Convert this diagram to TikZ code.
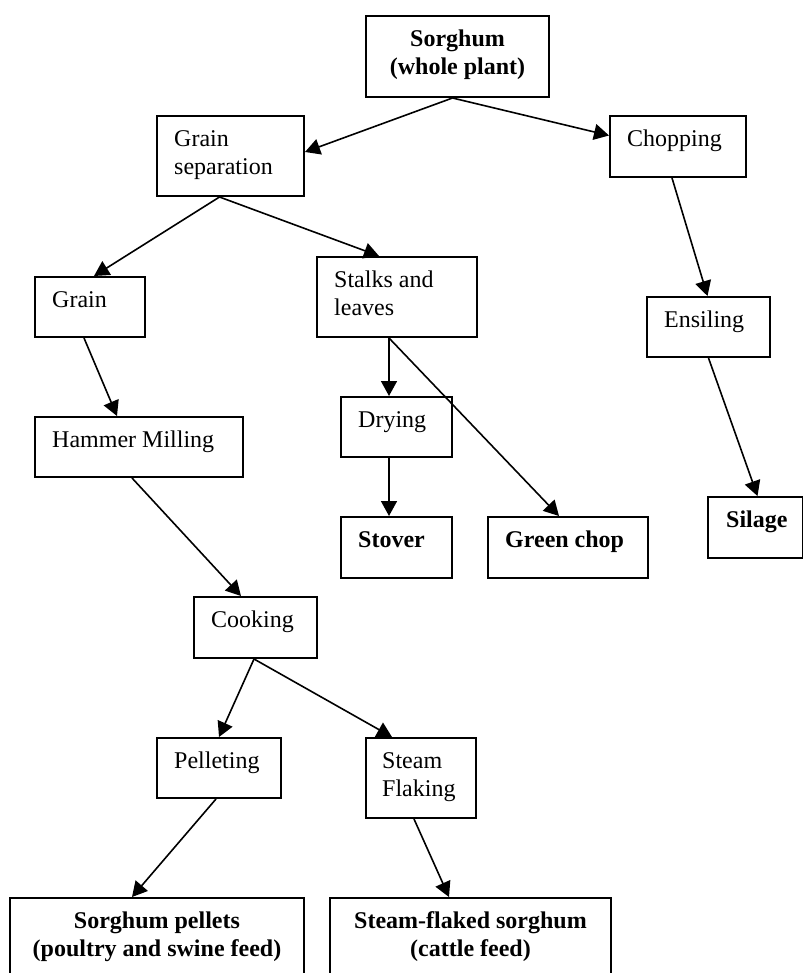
\documentclass[tikz,border=0pt]{standalone}
\usepackage{fontspec}
\setmainfont{Liberation Serif}
\usetikzlibrary{arrows.meta,calc,fit}

\tikzset{
  box/.style={draw, line width=2pt, inner sep=0pt, rectangle},
  lbl/.style={inner sep=0pt, font=\fontsize{24}{28}\selectfont},
  lblleft/.style={lbl, anchor=north west, align=left},
  lblbold/.style={lblleft, font=\fontsize{24}{28}\selectfont\bfseries},
  lblmid/.style={lbl, anchor=north, align=center, font=\fontsize{24}{28}\selectfont\bfseries},
  flow/.style={line width=1.6pt, -{Triangle[length=15pt,width=16pt]}}
}
% first-line strut: the baseline sits 20pt below the top of the text node
\newcommand{\firstline}{\rule{0pt}{20pt}}

\begin{document}
\begin{tikzpicture}[x=1pt,y=-1pt]
  \useasboundingbox (0,0) rectangle (802,973);

  % boxes
  \node[box, fit={(366,16) (549,97)}]   (sorghum) {};
  \node[box, fit={(157,116) (304,196)}] (grainsep) {};
  \node[box, fit={(610,116) (746,177)}] (chopping) {};
  \node[box, fit={(35,277) (145,337)}]  (grain) {};
  \node[box, fit={(317,257) (477,337)}] (stalks) {};
  \node[box, fit={(647,297) (770,357)}] (ensiling) {};
  \node[box, fit={(35,417) (243,477)}]  (hammer) {};
  \node[box, fit={(341,397) (452,457)}] (drying) {};
  \node[box, fit={(341,517) (452,578)}] (stover) {};
  \node[box, fit={(488,517) (648,578)}] (greenchop) {};
  \node[box, fit={(708,497) (803,558)}] (silage) {};
  \node[box, fit={(194,597) (317,658)}] (cooking) {};
  \node[box, fit={(157,738) (281,798)}] (pelleting) {};
  \node[box, fit={(366,738) (476,818)}] (steamflaking) {};
  \node[box, fit={(10,898) (304,990)}]  (pellets) {};
  \node[box, fit={(330,898) (611,990)}] (steamflaked) {};

  % texts
  \node[lblmid] (sorghum-t) at ($(sorghum.north)+(0,11)$) {\firstline Sorghum\\(whole plant)};
  \node[lblleft] (grainsep-t) at ($(grainsep.north west)+(18,11)$) {\firstline Grain\\separation};
  \node[lblleft] (chopping-t) at ($(chopping.north west)+(18,11)$) {\firstline Chopping};
  \node[lblleft] (grain-t) at ($(grain.north west)+(18,11)$) {\firstline Grain};
  \node[lblleft] (stalks-t) at ($(stalks.north west)+(18,11)$) {\firstline Stalks and\\leaves};
  \node[lblleft] (ensiling-t) at ($(ensiling.north west)+(18,11)$) {\firstline Ensiling};
  \node[lblleft] (hammer-t) at ($(hammer.north west)+(18,11)$) {\firstline Hammer Milling};
  \node[lblleft] (drying-t) at ($(drying.north west)+(18,11)$) {\firstline Drying};
  \node[lblbold] (stover-t) at ($(stover.north west)+(18,11)$) {\firstline Stover};
  \node[lblbold] (greenchop-t) at ($(greenchop.north west)+(18,11)$) {\firstline Green chop};
  \node[lblbold] (silage-t) at ($(silage.north west)+(19,11)$) {\firstline Silage};
  \node[lblleft] (cooking-t) at ($(cooking.north west)+(18,11)$) {\firstline Cooking};
  \node[lblleft] (pelleting-t) at ($(pelleting.north west)+(18,11)$) {\firstline Pelleting};
  \node[lblleft] (steamflaking-t) at ($(steamflaking.north west)+(17,11)$) {\firstline Steam\\Flaking};
  \node[lblmid] (pellets-t) at ($(pellets.north)+(0,11)$) {\firstline Sorghum pellets\\(poultry and swine feed)};
  \node[lblmid] (steamflaked-t) at ($(steamflaked.north)+(0,11)$) {\firstline Steam-flaked sorghum\\(cattle feed)};

  % connectors
  \draw[flow] ($(sorghum.south)+(-5,0)$) -- ($(grainsep.east)+(0,-4)$);
  \draw[flow] ($(sorghum.south)+(-5,0)$) -- ($(chopping.west)+(0,-11)$);
  \draw[flow] ($(grainsep.south)+(-11,0)$) -- ($(grain.north)+(4,0)$);
  \draw[flow] ($(grainsep.south)+(-11,0)$) -- ($(stalks.north west)+(63,0)$);
  \draw[flow] ($(grain.south)+(-6,0)$) -- ($(hammer.north west)+(83,0)$);
  \draw[flow] ($(hammer.south west)+(98,0)$) -- ($(cooking.north west)+(48,0)$);
  \draw[flow] ($(chopping.south)+(-6,0)$) -- ($(ensiling.north)+(-1,0)$);
  \draw[flow] (ensiling.south) -- ($(silage.north)+(2,0)$);
  \draw[flow] ($(stalks.south west)+(73,0)$) -- ($(drying.north west)+(49,0)$);
  \draw[flow] ($(stalks.south west)+(73,0)$) -- ($(greenchop.north west)+(72,0)$);
  \draw[flow] ($(drying.south west)+(49,0)$) -- ($(stover.north west)+(49,0)$);
  \draw[flow] ($(cooking.south west)+(61,0)$) -- ($(pelleting.north west)+(63,0)$);
  \draw[flow] ($(cooking.south west)+(61,0)$) -- ($(steamflaking.north west)+(27,0)$);
  \draw[flow] ($(pelleting.south west)+(60,0)$) -- ($(pellets.north west)+(123,0)$);
  \draw[flow] ($(steamflaking.south west)+(49,0)$) -- ($(steamflaked.north west)+(120,0)$);
\end{tikzpicture}
\end{document}
